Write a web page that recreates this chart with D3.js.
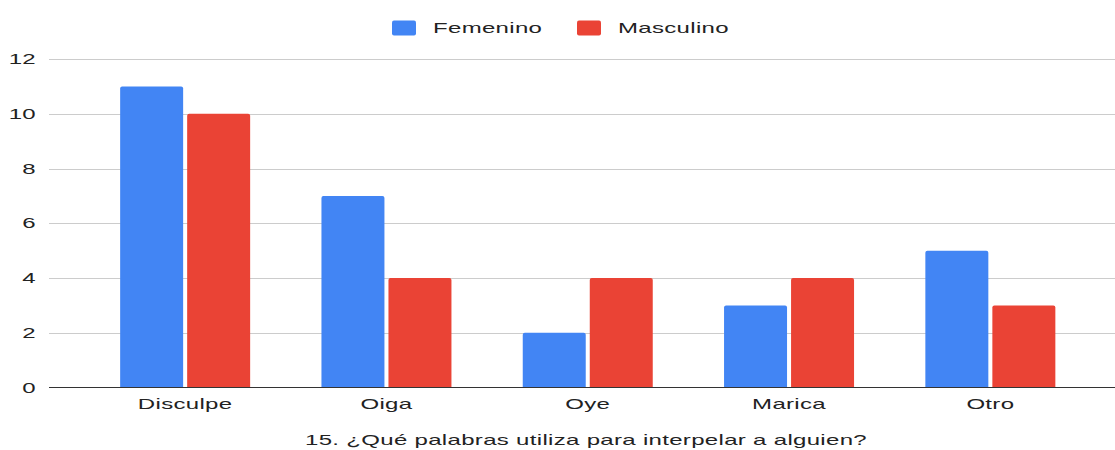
<!DOCTYPE html>
<html>
<head>
<meta charset="utf-8">
<script src="https://cdn.jsdelivr.net/npm/d3@7"></script>
<style>
  body { margin: 0; background: #fff; }
  text { font-family: "Liberation Sans", Arial, sans-serif; fill: #222; letter-spacing: 0.2px; }
</style>
</head>
<body>
<div id="main"></div>
<script>
const ctx = { w: 1115, h: 450, SX: 1.6 };

const categories = ['Disculpe', 'Oiga', 'Oye', 'Marica', 'Otro'];
const series = ['Femenino', 'Masculino'];
const femenino = [11, 7, 2, 3, 5];
const masculino = [10, 4, 4, 4, 3];
const yTicks = [0, 2, 4, 6, 8, 10, 12];
const xTitle = '15. ¿Qué palabras utiliza para interpelar a alguien?';

const colorScale = d3.scaleOrdinal().domain(series).range(['#4285F4', '#EA4335']);

const data = categories.map((c, i) => ({ cat: c, Femenino: femenino[i], Masculino: masculino[i] }));

// stretched text helper (picture is wider than tall)
function sText(g, x, y, str, anchor, size) {
    const t = g.append('text')
        .attr('transform', `translate(${x},${y}) scale(${ctx.SX},1)`)
        .attr('text-anchor', anchor)
        .style('font-size', size + 'px')
        .text(str);
    return t;
}

function createViz() {
    const svg = d3.select('#main').append('svg')
        .attr('width', ctx.w)
        .attr('height', ctx.h);

    const gridLeft = 49, gridRight = 1115;
    const x = d3.scaleBand().domain(categories).range([84.5, 1091]).paddingInner(0).paddingOuter(0);
    const x1 = d3.scaleBand().domain(series).range([0, 130]).paddingInner(0.06);
    const y = d3.scaleLinear().domain([0, 12]).range([387.5, 59]);

    // gridlines
    svg.append('g').selectAll('line')
        .data(yTicks.filter(d => d > 0))
        .enter().append('line')
        .attr('x1', gridLeft).attr('x2', gridRight)
        .attr('y1', d => Math.round(y(d)) + 0.5).attr('y2', d => Math.round(y(d)) + 0.5)
        .attr('stroke', '#ccc').attr('stroke-width', 1);

    // y labels
    const yl = svg.append('g');
    yTicks.forEach(t => sText(yl, 36, y(t) + 5, String(t), 'end', 15));

    // bars
    const groups = svg.append('g').selectAll('g')
        .data(data)
        .enter().append('g')
        .attr('transform', d => `translate(${x(d.cat) + (x.bandwidth() - 130) / 2},0)`);

    groups.selectAll('path')
        .data(d => series.map(s => ({ key: s, value: d[s] })))
        .enter().append('path')
        .attr('fill', d => colorScale(d.key))
        .attr('d', d => {
            const x0 = x1(d.key), w = x1.bandwidth();
            const top = y(d.value), bot = y(0), r = 2;
            return `M${x0},${bot}V${top + r}Q${x0},${top} ${x0 + r},${top}H${x0 + w - r}Q${x0 + w},${top} ${x0 + w},${top + r}V${bot}Z`;
        });

    // baseline
    svg.append('line')
        .attr('x1', gridLeft).attr('x2', gridRight)
        .attr('y1', 387.5).attr('y2', 387.5)
        .attr('stroke', '#333').attr('stroke-width', 1.2);

    // x labels
    const xl = svg.append('g');
    categories.forEach(c => sText(xl, x(c) + x.bandwidth() / 2, 409, c, 'middle', 15));

    // axis title
    sText(svg, 586, 445, xTitle, 'middle', 15);

    // legend
    const legX = [392, 577];
    series.forEach((s, i) => {
        svg.append('rect')
            .attr('x', legX[i]).attr('y', 20.5)
            .attr('width', 24).attr('height', 15)
            .attr('rx', 2)
            .attr('fill', colorScale(s));
        sText(svg, legX[i] + 41, 33, s, 'start', 15);
    });
}

createViz();
</script>
</body>
</html>
